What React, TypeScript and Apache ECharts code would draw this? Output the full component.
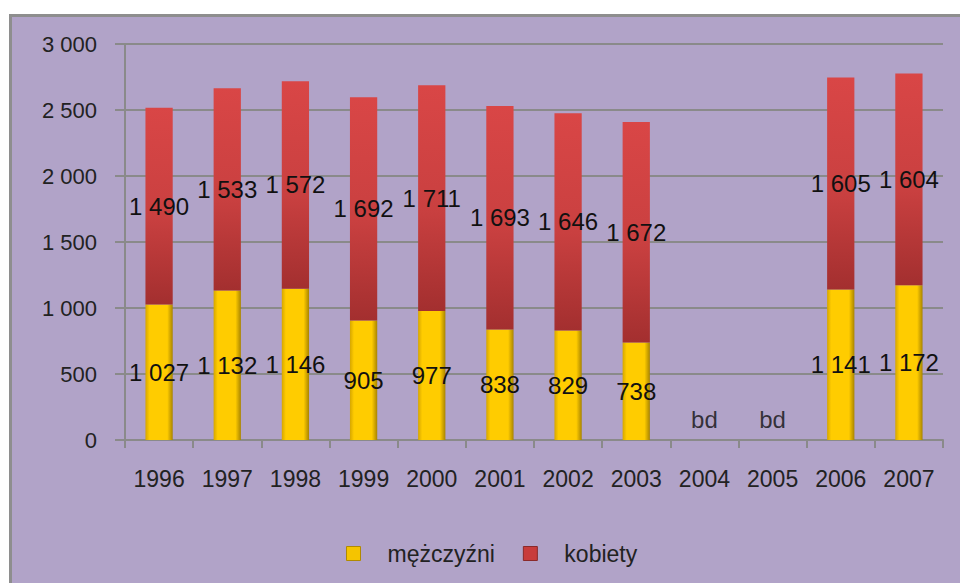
import React, { useEffect, useRef } from "react";
import * as echarts from "echarts";

const years = ["1996", "1997", "1998", "1999", "2000", "2001", "2002", "2003", "2004", "2005", "2006", "2007"];
const men: (number | null)[] = [1027, 1132, 1146, 905, 977, 838, 829, 738, null, null, 1141, 1172];
const women: (number | null)[] = [1490, 1533, 1572, 1692, 1711, 1693, 1646, 1672, null, null, 1605, 1604];
const noData: (number | null)[] = [null, null, null, null, null, null, null, null, 0, 0, null, null];
const yTicks = [0, 500, 1000, 1500, 2000, 2500, 3000];

const fmt = (v: number) => {
  const s = String(Math.round(v));
  return s.length > 3 ? s.slice(0, s.length - 3) + " " + s.slice(s.length - 3) : s;
};

const FONT = "Liberation Sans";

export default function App() {
  const ref = useRef<HTMLDivElement>(null);
  useEffect(() => {
    if (!ref.current) return;
    const chart = echarts.init(ref.current, undefined, { renderer: "svg" });
    const yellow = new echarts.graphic.LinearGradient(0, 0, 1, 0, [
      { offset: 0, color: "#D6A600" },
      { offset: 0.15, color: "#FFCC00" },
      { offset: 0.8, color: "#FFCC00" },
      { offset: 1, color: "#A88400" },
    ]);
    const red = new echarts.graphic.LinearGradient(0, 0, 0, 1, [
      { offset: 0, color: "#D94646" },
      { offset: 0.55, color: "#C94040" },
      { offset: 1, color: "#A32F2F" },
    ]);
    const labelStyle = {
      show: true,
      position: "inside" as const,
      color: "#111",
      fontSize: 24,
      fontFamily: FONT,
      formatter: (p: any) => fmt(p.value),
    };
    chart.setOption({
      animation: false,
      textStyle: { fontFamily: FONT },
      grid: { left: 125, right: 17, top: 44, bottom: 143 },
      legend: {
        data: [
          { name: "mężczyźni", itemStyle: { color: "#F5C400", borderColor: "#B08A00", borderWidth: 1 } },
          { name: "kobiety", itemStyle: { color: "#C83C3C", borderColor: "#8A2A2A", borderWidth: 1 } },
        ],
        left: 341,
        top: 537,
        icon: "rect",
        itemWidth: 14,
        itemHeight: 14,
        itemGap: 28,
        textStyle: { fontSize: 23, color: "#222", fontFamily: FONT, padding: [0, 0, 0, 22] },
      },
      xAxis: {
        type: "category",
        data: years,
        axisLine: { show: true, lineStyle: { color: "#8a8a8a", width: 2 } },
        axisTick: { show: true, length: 8, lineStyle: { color: "#8a8a8a", width: 2 } },
        axisLabel: { color: "#222", fontSize: 23, margin: 27, fontFamily: FONT },
      },
      yAxis: {
        type: "value",
        min: yTicks[0],
        max: yTicks[yTicks.length - 1],
        interval: 500,
        axisLine: { show: true, lineStyle: { color: "#8a8a8a", width: 2 } },
        axisTick: { show: true, length: 10, lineStyle: { color: "#8a8a8a", width: 2 } },
        axisLabel: { color: "#222", fontSize: 22, margin: 28, fontFamily: FONT, formatter: (v: number) => fmt(v) },
        splitLine: { show: true, lineStyle: { color: "#8a8a8a", width: 2 } },
      },
      series: [
        {
          name: "mężczyźni",
          type: "bar",
          stack: "total",
          data: men,
          barWidth: "40%",
          itemStyle: { color: yellow },
          label: labelStyle,
        },
        {
          name: "kobiety",
          type: "bar",
          stack: "total",
          data: women,
          barWidth: "40%",
          itemStyle: { color: red },
          label: labelStyle,
        },
        {
          name: "bd",
          type: "scatter",
          data: noData,
          symbolSize: 1,
          itemStyle: { color: "transparent" },
          label: {
            show: true,
            position: "top",
            distance: 8,
            color: "#111",
            fontSize: 24,
            fontFamily: FONT,
            formatter: () => "bd",
          },
        },
      ],
    });
    return () => chart.dispose();
  }, []);
  return (
    <div style={{ position: "fixed", left: 0, top: 0, width: 960, height: 583, background: "#ffffff", overflow: "hidden" }}>
      <div
        style={{
          position: "absolute",
          left: 9,
          top: 14,
          width: 960,
          height: 583,
          background: "#B1A3C8",
          borderLeft: "3px solid #8e8e8e",
          borderTop: "3px solid #8e8e8e",
        }}
      />
      <div ref={ref} style={{ position: "absolute", left: 0, top: 0, width: 960, height: 583 }} />
    </div>
  );
}
